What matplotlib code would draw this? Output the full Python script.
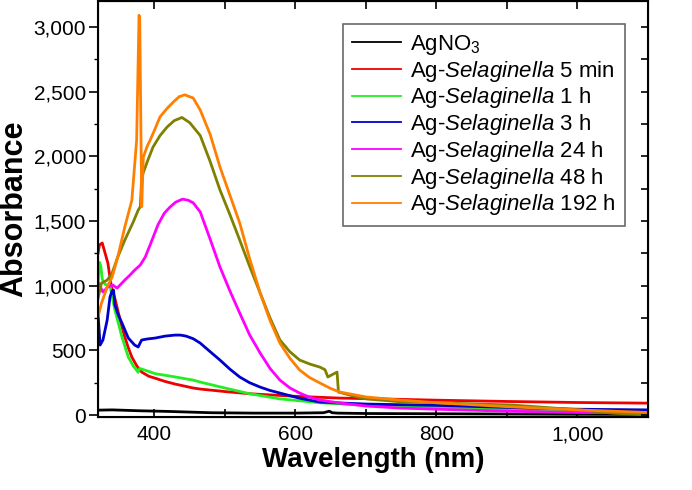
import matplotlib
matplotlib.use("Agg")
import matplotlib.pyplot as plt
from matplotlib.ticker import MultipleLocator, FuncFormatter

plt.rcParams['font.family'] = ['Liberation Sans', 'DejaVu Sans']
plt.rcParams['mathtext.fontset'] = 'custom'
plt.rcParams['mathtext.rm'] = 'Liberation Sans'
plt.rcParams['mathtext.it'] = 'Liberation Sans:italic'

# spectra (wavelength nm, absorbance)
wl_agno3 = [320, 340, 380, 420, 480, 540, 600, 640, 648, 652, 660, 700, 800, 900, 1000, 1100]
ab_agno3 = [38, 40, 33, 28, 18, 15, 15, 18, 30, 18, 15, 12, 10, 8, 6, 5]

wl_5min = [320, 322, 326, 330, 334, 339, 344, 348, 353, 358, 363, 368, 375, 382, 392, 401,
           415, 429, 455, 465, 503, 535, 550, 600, 663, 720, 800, 900, 1000, 1100]
ab_5min = [1250, 1314, 1330, 1252, 1175, 990, 900, 811, 700, 603, 520, 448, 380, 332, 300, 285,
           260, 240, 209, 201, 180, 165, 160, 145, 131, 125, 115, 105, 97, 92]

wl_1h = [320, 321, 322, 324, 326, 330, 337, 344, 354, 363, 370, 377, 379, 385, 401, 429, 455,
         465, 503, 535, 578, 635, 700, 800, 900, 1000, 1100]
ab_1h = [1000, 1100, 1180, 1150, 1050, 1010, 1000, 811, 603, 448, 380, 330, 360, 350, 320, 295, 270,
         255, 205, 165, 125, 95, 75, 60, 45, 35, 25]

wl_3h = [320, 323, 327, 333, 337, 340, 342, 344, 349, 354, 363, 372, 377, 380, 382, 390, 401,
         415, 429, 437, 445, 455, 465, 479, 493, 507, 521, 535, 550, 564, 578, 606, 635, 700,
         800, 932, 1000, 1100]
ab_3h = [788, 541, 580, 734, 912, 960, 966, 850, 770, 711, 595, 541, 526, 560, 580, 588, 595,
         610, 618, 618, 610, 590, 556, 490, 425, 355, 294, 250, 216, 190, 170, 130, 100, 85,
         75, 54, 45, 40]

wl_24h = [320, 327, 334, 341, 347, 358, 365, 372, 380, 387, 395, 405, 414, 422, 430, 440, 448,
          455, 465, 479, 493, 507, 521, 535, 550, 564, 578, 592, 606, 620, 635, 660, 700, 748,
          800, 900, 1000, 1100]
ab_24h = [1028, 951, 990, 1005, 981, 1043, 1080, 1120, 1160, 1221, 1330, 1470, 1560, 1607, 1645,
          1669, 1660, 1640, 1570, 1360, 1144, 960, 788, 620, 479, 360, 270, 210, 170, 138, 116,
          95, 70, 54, 45, 30, 20, 15]

wl_48h = [320, 321, 325, 333, 340, 348, 358, 370, 377, 380, 382, 390, 398, 408, 418, 428, 439,
          450, 465, 479, 493, 507, 521, 535, 550, 564, 578, 592, 606, 620, 635, 642, 646, 653,
          659, 661, 680, 700, 748, 800, 909, 1004, 1050, 1100]
ab_48h = [900, 927, 1020, 1043, 1097, 1221, 1352, 1492, 1584, 1610, 1840, 1960, 2071, 2160, 2226,
          2275, 2300, 2260, 2160, 1960, 1739, 1550, 1352, 1150, 943, 750, 580, 490, 425, 395,
          370, 350, 294, 315, 332, 178, 150, 125, 103, 95, 77, 39, 15, 0]

wl_192h = [320, 325, 333, 340, 348, 358, 368, 374.8, 378.2, 379.2, 382, 384.3, 390, 394, 400,
           408, 418, 427, 435, 443, 455, 465, 479, 493, 507, 521, 535, 550, 564, 578, 592, 606,
           620, 635, 650, 663, 700, 748, 800, 900, 1000, 1100]
ab_192h = [757, 865, 990, 1066, 1221, 1453, 1660, 2125, 3090, 3060, 1610, 1995, 2080, 2125, 2200,
           2305, 2370, 2420, 2460, 2475, 2450, 2357, 2170, 1917, 1700, 1484, 1210, 943, 730, 556,
           440, 348, 290, 247, 205, 178, 140, 116, 95, 65, 40, 20]

labels = ['AgNO$_3$',
          'Ag-$\\mathit{Selaginella}$ 5 min',
          'Ag-$\\mathit{Selaginella}$ 1 h',
          'Ag-$\\mathit{Selaginella}$ 3 h',
          'Ag-$\\mathit{Selaginella}$ 24 h',
          'Ag-$\\mathit{Selaginella}$ 48 h',
          'Ag-$\\mathit{Selaginella}$ 192 h']
colors = ['#000000', '#ee0000', '#22ee22', '#0000cc', '#ff00ff', '#808000', '#ff8000']
series = [(wl_agno3, ab_agno3), (wl_5min, ab_5min), (wl_1h, ab_1h), (wl_3h, ab_3h),
          (wl_24h, ab_24h), (wl_48h, ab_48h), (wl_192h, ab_192h)]

fig = plt.figure(figsize=(6.92, 4.9), dpi=100)
ax = fig.add_axes([98 / 692, 1 - 417 / 490, 550 / 692, 416 / 490])

for (x, y), lab, c in zip(series, labels, colors):
    ax.plot(x, y, color=c, lw=2.0, label=lab)

ax.set_xlim(320, 1100)
ax.set_ylim(-15, 3200)

ax.xaxis.set_major_locator(MultipleLocator(200))
ax.xaxis.set_minor_locator(MultipleLocator(100))
ax.yaxis.set_major_locator(MultipleLocator(500))
ax.yaxis.set_minor_locator(MultipleLocator(250))
fmt = FuncFormatter(lambda v, p: f"{v:,.0f}")
ax.xaxis.set_major_formatter(fmt)
ax.yaxis.set_major_formatter(fmt)

ax.tick_params(axis='x', which='both', direction='in', top=True, bottom=True,
               length=6, width=1.2, labelsize=15, pad=6)
ax.tick_params(axis='y', which='major', direction='out', left=True, right=False,
               length=6.5, width=1.2, labelsize=15, pad=2)
ax.tick_params(axis='y', which='minor', direction='out', left=True, right=False,
               length=3, width=1.0)
for sp in ax.spines.values():
    sp.set_linewidth(1.5)

# right axis ticks point inward
ax2 = ax.twinx()
ax2.set_ylim(ax.get_ylim())
ax2.yaxis.set_major_locator(MultipleLocator(250))
ax2.tick_params(axis='y', direction='in', length=5, width=1.2, labelright=False)

ax.set_xlabel('Wavelength (nm)', fontsize=20, fontweight='bold', labelpad=2)
ax.set_ylabel('Absorbance', fontsize=22, fontweight='bold', labelpad=3)

leg = ax.legend(loc='upper right', bbox_to_anchor=(0.958, 0.945), borderaxespad=0,
                fontsize=16, frameon=True, fancybox=False, handlelength=2.2,
                handletextpad=0.4, labelspacing=0.08, borderpad=0.4)
leg.get_frame().set_edgecolor('#444444')
leg.get_frame().set_linewidth(1.2)
for line in leg.get_lines():
    line.set_linewidth(1.3)

fig.savefig('out.png', dpi=100)
